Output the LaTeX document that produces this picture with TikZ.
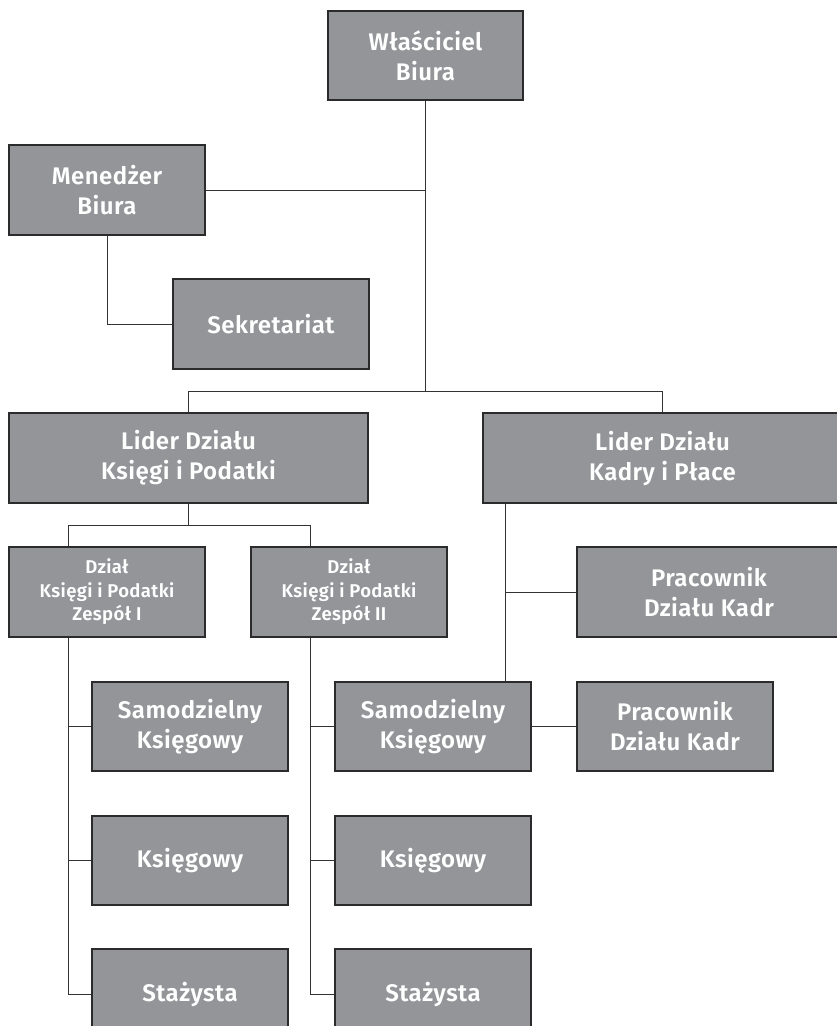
\documentclass[tikz,border=0pt]{standalone}
\usepackage{fontspec}
\setmainfont{Fira Sans}[BoldFont={Fira Sans SemiBold}, BoldFeatures={LetterSpace=2}]
\usetikzlibrary{calc}
\definecolor{boxfill}{HTML}{939598}
\definecolor{boxline}{HTML}{2B2B2B}
\definecolor{connline}{HTML}{333333}
\tikzset{
  box/.style={draw=boxline, line width=1.3pt, fill=boxfill, text=white,
    font=\fontsize{24}{30}\selectfont\bfseries, align=center, inner sep=0pt,
    minimum width=196pt, minimum height=90pt},
  smallbox/.style={box, font=\fontsize{18.5}{23.5}\selectfont\bfseries},
  conn/.style={draw=connline, line width=1pt}
}
\begin{document}
\begin{tikzpicture}[x=1pt,y=-1pt]
\useasboundingbox (0,0) rectangle (837,1026);
\clip (0,0) rectangle (837,1026);
% nodes
\node[box, minimum width=195pt, minimum height=89pt] (owner) at (425.5,55.5) {Właściciel\\Biura};
\node[box] (mgr) at (107,190) {Menedżer\\Biura};
\node[box] (sek) at (271,324) {Sekretariat};
\node[box, minimum width=359pt] (lk) at (188.5,458) {Lider Działu\\Księgi i Podatki};
\node[box, minimum width=359pt] (lp) at (662.5,458) {Lider Działu\\Kadry i Płace};
\node[smallbox] (d1) at (107,592) {Dział\\Księgi i Podatki\\Zespół I};
\node[smallbox] (d2) at (349,592) {Dział\\Księgi i Podatki\\Zespół II};
\node[box, minimum width=264pt] (p1) at (709,592) {Pracownik\\Działu Kadr};
\node[box, minimum height=89pt] (s1) at (190,726.5) {Samodzielny\\Księgowy};
\node[box, minimum height=89pt] (s2) at (433,726.5) {Samodzielny\\Księgowy};
\node[box, minimum height=89pt] (p2) at (675,726.5) {Pracownik\\Działu Kadr};
\node[box, minimum height=89pt] (k1) at (190,860.5) {Księgowy};
\node[box, minimum height=89pt] (k2) at (433,860.5) {Księgowy};
\node[box] (t1) at (190,994) {Stażysta};
\node[box] (t2) at (433,994) {Stażysta};
% helper coordinates
\coordinate (bus) at (owner.south |- 0,391);
\coordinate (d1x) at ($(d1.south west)+(60,0)$);
\coordinate (d2x) at ($(d2.south west)+(60,0)$);
\coordinate (lpx) at ($(lp.south west)+(23,0)$);
% connectors
\draw[conn] (owner.south) -- (bus);
\draw[conn] (lk.north) -- (lk.north |- bus) -- (lp.north |- bus) -- (lp.north);
\draw[conn] (mgr.east) -- (mgr.east -| owner.south);
\draw[conn] (mgr.south) |- (sek.west);
\draw[conn] (lk.south) -- ++(0,22) coordinate (lkb) -| ($(d1.north west)+(60,0)$);
\draw[conn] (lkb) -| ($(d2.north west)+(60,0)$);
\draw[conn] (d1x) |- (t1.west);
\draw[conn] (s1.west) -- (s1.west -| d1x);
\draw[conn] (k1.west) -- (k1.west -| d1x);
\draw[conn] (d2x) |- (t2.west);
\draw[conn] (s2.west) -- (s2.west -| d2x);
\draw[conn] (k2.west) -- (k2.west -| d2x);
\draw[conn] (lpx) -- (lpx |- s2.north);
\draw[conn] (p1.west) -- (p1.west -| lpx);
\draw[conn] (s2.east) -- (p2.west);
\end{tikzpicture}
\end{document}
